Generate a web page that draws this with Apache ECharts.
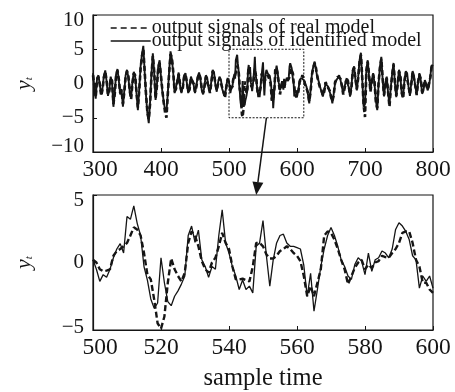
<!DOCTYPE html>
<html><head><meta charset="utf-8">
<script src="https://cdn.jsdelivr.net/npm/echarts@6/dist/echarts.min.js"></script>
<style>html,body{margin:0;padding:0;background:#fff}#c{width:455px;height:392px}</style>
</head><body><div id="c"></div>
<script>
// ---- tick labels ----
const topXTicks = [300, 400, 500, 600, 700, 800];
const topYTicks = [-10, -5, 0, 5, 10];
const botXTicks = [500, 520, 540, 560, 580, 600];
const botYTicks = [-5, 0, 5];
const legendNames = ['output signals of real model', 'output signals of identified model'];

// ---- zoomed window (samples 500..600, step 1) ----
const botIdent = [
  0.2, -0.5, -1.4, -0.9, -1.1, -0.5, 0.35, 1.0, 1.4, 0.7,
  3.4, 3.2, 4.2, 2.9, 2.0, -0.3, -1.3, -2.7, -3.4, -3.0,
  0.35, -1.5, -2.9, -3.2, -2.5, -2.1, -1.6, -1.0, 2.0, 2.7,
  1.5, 2.4, 0.2, -0.3, -1.1, -0.3, -0.5, 2.0, 3.9, 1.45,
  0.7, -0.3, -1.0, -2.0, -1.3, -2.0, -1.75, -2.25, 1.2, 1.45,
  3.1, 0.5, -1.75, 0.2, 1.45, 2.0, 2.1, 1.45, 1.2, 1.2,
  1.1, 1.0, -0.2, -2.5, -0.8, -3.6, -2.0, -0.3, 1.0, 2.0,
  2.6, 2.0, 1.2, 0.2, -0.3, -1.0, -1.25, -0.15, 0.35, 0.1,
  -0.9, 0.7, -0.65, 0.2, 0.35, 0.85, 0.7, 0.35, 1.0, 2.45,
  2.95, 2.7, 2.3, 1.7, 0.5, 0.2, -1.9, -1.0, -1.4, -1.0,
  -1.9
];
const botReal = [
  0.2, 0.0, -0.5, -0.65, -0.6, -0.5, 0.5, 0.85, 1.0, 1.2,
  1.45, 2.0, 2.6, 2.45, 2.0, 0.7, -0.9, -1.25, -2.75, -4.5,
  -4.9, -4.0, -1.5, 0.3, -0.5, -1.0, -1.4, -0.75, 1.45, 2.3,
  2.0, 1.2, 0.1, -0.5, -0.75, 0.0, 0.35, 1.2, 2.2, 1.45,
  1.0, -0.3, -1.25, -1.25, -1.2, -1.3, -1.4, -0.3, 1.45, 1.45,
  1.2, 0.6, 0.3, 0.3, 0.5, 0.85, 1.0, 1.2, 1.0, 0.7,
  0.5, 0.1, -1.0, -2.5, -1.75, -2.5, -1.5, -0.5, 2.0, 2.3,
  2.2, 1.7, 1.0, 0.2, -0.5, -1.6, -1.0, -0.4, 0.0, 0.2,
  -0.5, -0.15, -0.4, 0.0, 0.1, 0.5, 0.4, 0.35, 0.7, 1.0,
  1.45, 2.2, 2.3, 2.3, 1.45, 0.2, -0.3, -1.5, -1.5, -2.0,
  -2.25
];
// ---- overview: samples 300..498 (step 2) ----
const topIdentA = [
  1.5, -0.6, -2.2, 0.8, 1.2, -0.2, -1.6, -0.7, 1.1, 1.9,
  0.3, -1.8, -0.9, 1.0, 0.2, -3.4, -1.3, 1.4, 2.1, 0.4,
  -1.6, -0.8, -3.4, -1.1, 1.2, 2.0, 0.9, -1.2, -2.1, 0.2,
  1.7, 1.0, -1.5, -3.9, -0.8, 2.5, 4.2, 5.5, 1.6, -1.8,
  -4.4, -5.8, -2.6, 1.4, 4.4, 1.6, -2.4, -0.2, 2.6, 3.4,
  0.9, -1.2, -2.6, -3.9, -4.2, -1.4, 1.8, 4.7, 3.6, 1.5,
  -1.4, -0.6, 0.5, 1.6, -0.3, -1.4, -0.5, 1.2, 1.5, 0.1,
  -1.4, -0.7, 1.0, 1.2, -0.2, -1.4, -0.3, 1.0, 1.6, 0.6,
  -1.0, -1.6, -0.2, 1.2, 0.8, -0.7, -1.2, 0.3, 2.0, 1.6,
  -0.2, -1.2, 0.2, 1.0, 0.6, -0.8, -1.4, -1.9, -0.4, 0.8
];
const topRealA = [
  1.2, -0.4, -2.0, 0.6, 1.0, -0.1, -1.8, -0.9, 0.9, 1.7,
  0.5, -1.6, -1.1, 0.8, 0.4, -3.0, -1.5, 1.2, 1.9, 0.6,
  -1.4, -1.0, -3.0, -1.3, 1.0, 1.8, 1.1, -1.0, -2.3, 0.0,
  1.5, 1.2, -1.3, -3.5, -1.0, 2.2, 4.0, 5.0, 1.8, -1.6,
  -4.2, -5.2, -2.9, 1.2, 4.0, 1.8, -2.2, -0.4, 2.3, 3.0,
  1.1, -1.0, -2.8, -4.2, -5.0, -1.6, 1.5, 4.3, 3.8, 1.7,
  -1.2, -0.8, 0.3, 1.4, -0.1, -1.2, -0.7, 1.0, 1.3, 0.3,
  -1.2, -0.9, 0.8, 1.0, 0.0, -1.2, -0.5, 0.8, 1.4, 0.8,
  -0.8, -1.4, -0.4, 1.0, 1.0, -0.5, -1.4, 0.1, 1.8, 1.4,
  0.0, -1.0, 0.0, 0.8, 0.8, -0.6, -1.2, -2.1, -0.6, 0.6
];
// ---- overview: samples 602..800 (step 2) ----
const topIdentB = [
  -1.0, 0.5, 0.8, 1.0, 0.5, 0.0, -0.5, -1.5, -2.9, -1.0,
  1.5, 2.5, 3.2, 2.0, 0.8, 0.3, -0.5, -1.2, -1.9, -1.0,
  0.0, 0.2, -0.5, -1.2, -1.8, -2.9, -1.5, 0.0, 0.5, 0.8,
  1.2, 0.5, -0.5, -1.4, -0.5, 0.5, 0.75, -0.5, -1.9, -0.5,
  2.0, 2.5, 0.5, -1.0, 1.0, 3.4, 4.5, 0.5, -3.4, -3.0,
  2.0, 3.4, 1.0, -1.0, 0.5, 1.5, 0.0, -2.5, -3.9, 0.0,
  2.5, 3.9, 0.5, -1.9, 0.0, 1.0, -1.5, -2.9, -0.5, 1.5,
  3.0, 0.0, -2.0, 0.0, 2.0, 1.0, -1.5, -2.0, 0.5, 1.8,
  1.5, -0.5, -1.8, 0.0, 1.8, 1.2, -0.5, -1.5, 0.0, 1.5,
  0.5, -1.5, -1.0, 0.5, 0.0, -1.0, -0.5, 1.0, 2.7, 2.5
];
const topRealB = [
  -1.2, 0.3, 0.6, 1.2, 0.7, -0.2, -0.7, -1.3, -2.6, -1.2,
  1.3, 2.3, 3.0, 2.2, 1.0, 0.1, -0.7, -1.0, -1.7, -1.2,
  0.2, 0.0, -0.7, -1.0, -2.0, -2.6, -1.7, 0.2, 0.3, 1.0,
  1.0, 0.7, -0.3, -1.6, -0.7, 0.3, 0.9, -0.3, -1.7, -0.7,
  1.8, 2.3, 0.7, -0.8, 0.8, 3.2, 4.2, 0.7, -3.2, -4.9,
  1.8, 3.2, 1.2, -1.2, 0.3, 1.3, 0.2, -2.7, -3.6, 0.2,
  2.3, 3.6, 0.7, -1.7, 0.2, 0.8, -1.3, -3.4, -0.7, 1.3,
  2.8, 0.2, -1.8, -0.2, 1.8, 1.2, -1.3, -2.2, 0.3, 1.6,
  1.7, -0.3, -1.6, -0.2, 1.6, 1.4, -0.3, -1.7, 0.2, 1.3,
  0.7, -1.3, -1.2, 0.3, 0.2, -0.8, -0.7, 0.8, 2.5, 2.3
];
// ---- zoom box drawn on overview ----
const boxX = [500, 610];
const boxY = [-5, 5];

function pairs(start, step, vals) { return vals.map((v, i) => [start + i * step, v]); }
const topIdent = pairs(300, 2, topIdentA).concat(pairs(500, 1, botIdent), pairs(602, 2, topIdentB));
const topReal = pairs(300, 2, topRealA).concat(pairs(500, 1, botReal), pairs(602, 2, topRealB));

const FF = 'Liberation Serif';
const INK = '#151515';
const minus = v => (v < 0 ? '\u2212' + Math.abs(v) : String(v));

function xAxis(idx, ticks, name) {
  const lo = ticks[0];
  return {
    type: 'value', gridIndex: idx, min: lo, max: ticks[ticks.length - 1],
    interval: ticks[1] - ticks[0],
    axisLine: { show: true, onZero: false, lineStyle: { color: INK, width: 1.2 } },
    axisTick: { inside: true, length: 4, lineStyle: { color: INK } },
    axisLabel: {
      color: INK, fontFamily: FF, fontSize: 23.5, margin: 6,
      formatter: v => (v === lo ? '{f|' + minus(v) + '}' : minus(v)),
      rich: { f: { fontFamily: FF, fontSize: 23.5, color: INK, padding: [0, 0, 0, 14] } }
    },
    splitLine: { show: false },
    name: name || '', nameLocation: 'middle', nameGap: 36,
    nameTextStyle: { color: INK, fontFamily: FF, fontSize: 24.5 }
  };
}
function yAxis(idx, ticks, padHi, padLo) {
  const lo = ticks[0], hi = ticks[ticks.length - 1];
  return {
    type: 'value', gridIndex: idx, min: lo, max: hi,
    interval: ticks[1] - ticks[0],
    axisLine: { show: true, onZero: false, lineStyle: { color: INK, width: 1.2 } },
    axisTick: { inside: true, length: 4, lineStyle: { color: INK } },
    axisLabel: {
      color: INK, fontFamily: FF, fontSize: 21, margin: 9,
      formatter: v => (v === hi ? '{h|' + minus(v) + '}' : v === lo ? '{l|' + minus(v) + '}' : minus(v)),
      rich: {
        h: { fontFamily: FF, fontSize: 21, color: INK, padding: [padHi, 0, 0, 0] },
        l: { fontFamily: FF, fontSize: 21, color: INK, padding: [0, 0, padLo, 0] }
      }
    },
    splitLine: { show: false },
    name: '{a|y}{b|t}', nameLocation: 'middle', nameRotate: 90, nameGap: 58,
    nameTextStyle: {
      rich: {
        a: { fontFamily: FF, fontStyle: 'italic', fontSize: 22, color: INK },
        b: { fontFamily: FF, fontStyle: 'italic', fontSize: 11, color: INK, verticalAlign: 'bottom', padding: [8, 0, 0, 0] }
      }
    }
  };
}
const solidTop = { color: INK, width: 1.9 };
const dashedTop = { color: INK, width: 2.6, type: [5, 3] };
const solid = { color: INK, width: 1.3 };
const dashed = { color: INK, width: 2.4, type: [6, 3] };

const chart = echarts.init(document.getElementById('c'), null, { renderer: 'canvas' });
chart.setOption({
  animation: false,
  backgroundColor: '#fff',
  grid: [
    { left: 93, top: 15, width: 340, height: 137, show: true, borderColor: INK, borderWidth: 1.2 },
    { left: 93, top: 195, width: 340, height: 136, show: true, borderColor: INK, borderWidth: 1.2 }
  ],
  xAxis: [xAxis(0, topXTicks), xAxis(1, botXTicks, 'sample time')],
  yAxis: [yAxis(0, topYTicks, 10, 12), yAxis(1, botYTicks, 10, 6)],
  series: [
    { name: legendNames[0], type: 'line', xAxisIndex: 0, yAxisIndex: 0, data: topReal, symbol: 'none', lineStyle: dashedTop },
    { name: legendNames[1], type: 'line', xAxisIndex: 0, yAxisIndex: 0, data: topIdent, symbol: 'none', lineStyle: solidTop },
    { name: legendNames[0], type: 'line', xAxisIndex: 1, yAxisIndex: 1, data: pairs(500, 1, botReal), symbol: 'none', lineStyle: dashed },
    { name: legendNames[1], type: 'line', xAxisIndex: 1, yAxisIndex: 1, data: pairs(500, 1, botIdent), symbol: 'none', lineStyle: solid },
    { name: 'box', type: 'line', xAxisIndex: 0, yAxisIndex: 0, symbol: 'none', silent: true,
      data: [[boxX[0], boxY[1]], [boxX[1], boxY[1]], [boxX[1], boxY[0]], [boxX[0], boxY[0]], [boxX[0], boxY[1]]],
      lineStyle: { color: INK, width: 1, type: [2, 1.5] } }
  ]
});
// arrow from zoom box to zoomed panel
const p0 = chart.convertToPixel({ gridIndex: 0 }, [555, boxY[0]]);
const p1 = chart.convertToPixel({ gridIndex: 1 }, [548, botYTicks[botYTicks.length - 1]]);
const ang = Math.atan2(p1[1] - p0[1], p1[0] - p0[0]);
const L = 13, W = 5.5;
const bx = p1[0] - L * Math.cos(ang), by = p1[1] - L * Math.sin(ang);
const nx = -Math.sin(ang), ny = Math.cos(ang);
// legend key (drawn inside the top panel)
const lg = chart.convertToPixel({ gridIndex: 0 }, [326, 0]);
const gLeft = lg[0], gRight = gLeft + 40, y1 = 28, y2 = 41;
chart.setOption({
  graphic: [
    { type: 'line', shape: { x1: p0[0], y1: p0[1], x2: bx, y2: by }, style: { stroke: INK, lineWidth: 1.5 }, z: 100 },
    { type: 'polygon', shape: { points: [[p1[0], p1[1]], [bx + nx * W, by + ny * W], [bx - nx * W, by - ny * W]] }, style: { fill: INK }, z: 100 },
    { type: 'line', shape: { x1: gLeft, y1: y1, x2: gRight, y2: y1 }, style: { stroke: INK, lineWidth: 1.6, lineDash: [6, 4] }, z: 100 },
    { type: 'line', shape: { x1: gLeft, y1: y2, x2: gRight, y2: y2 }, style: { stroke: INK, lineWidth: 1.4 }, z: 100 },
    { type: 'text', x: gRight + 1, y: y1, style: { text: legendNames[0], fontFamily: FF, fontSize: 20, fill: INK, verticalAlign: 'middle', align: 'left' }, z: 100 },
    { type: 'text', x: gRight + 1, y: y2, style: { text: legendNames[1], fontFamily: FF, fontSize: 20, fill: INK, verticalAlign: 'middle', align: 'left' }, z: 100 }
  ]
});
</script>
</body></html>
